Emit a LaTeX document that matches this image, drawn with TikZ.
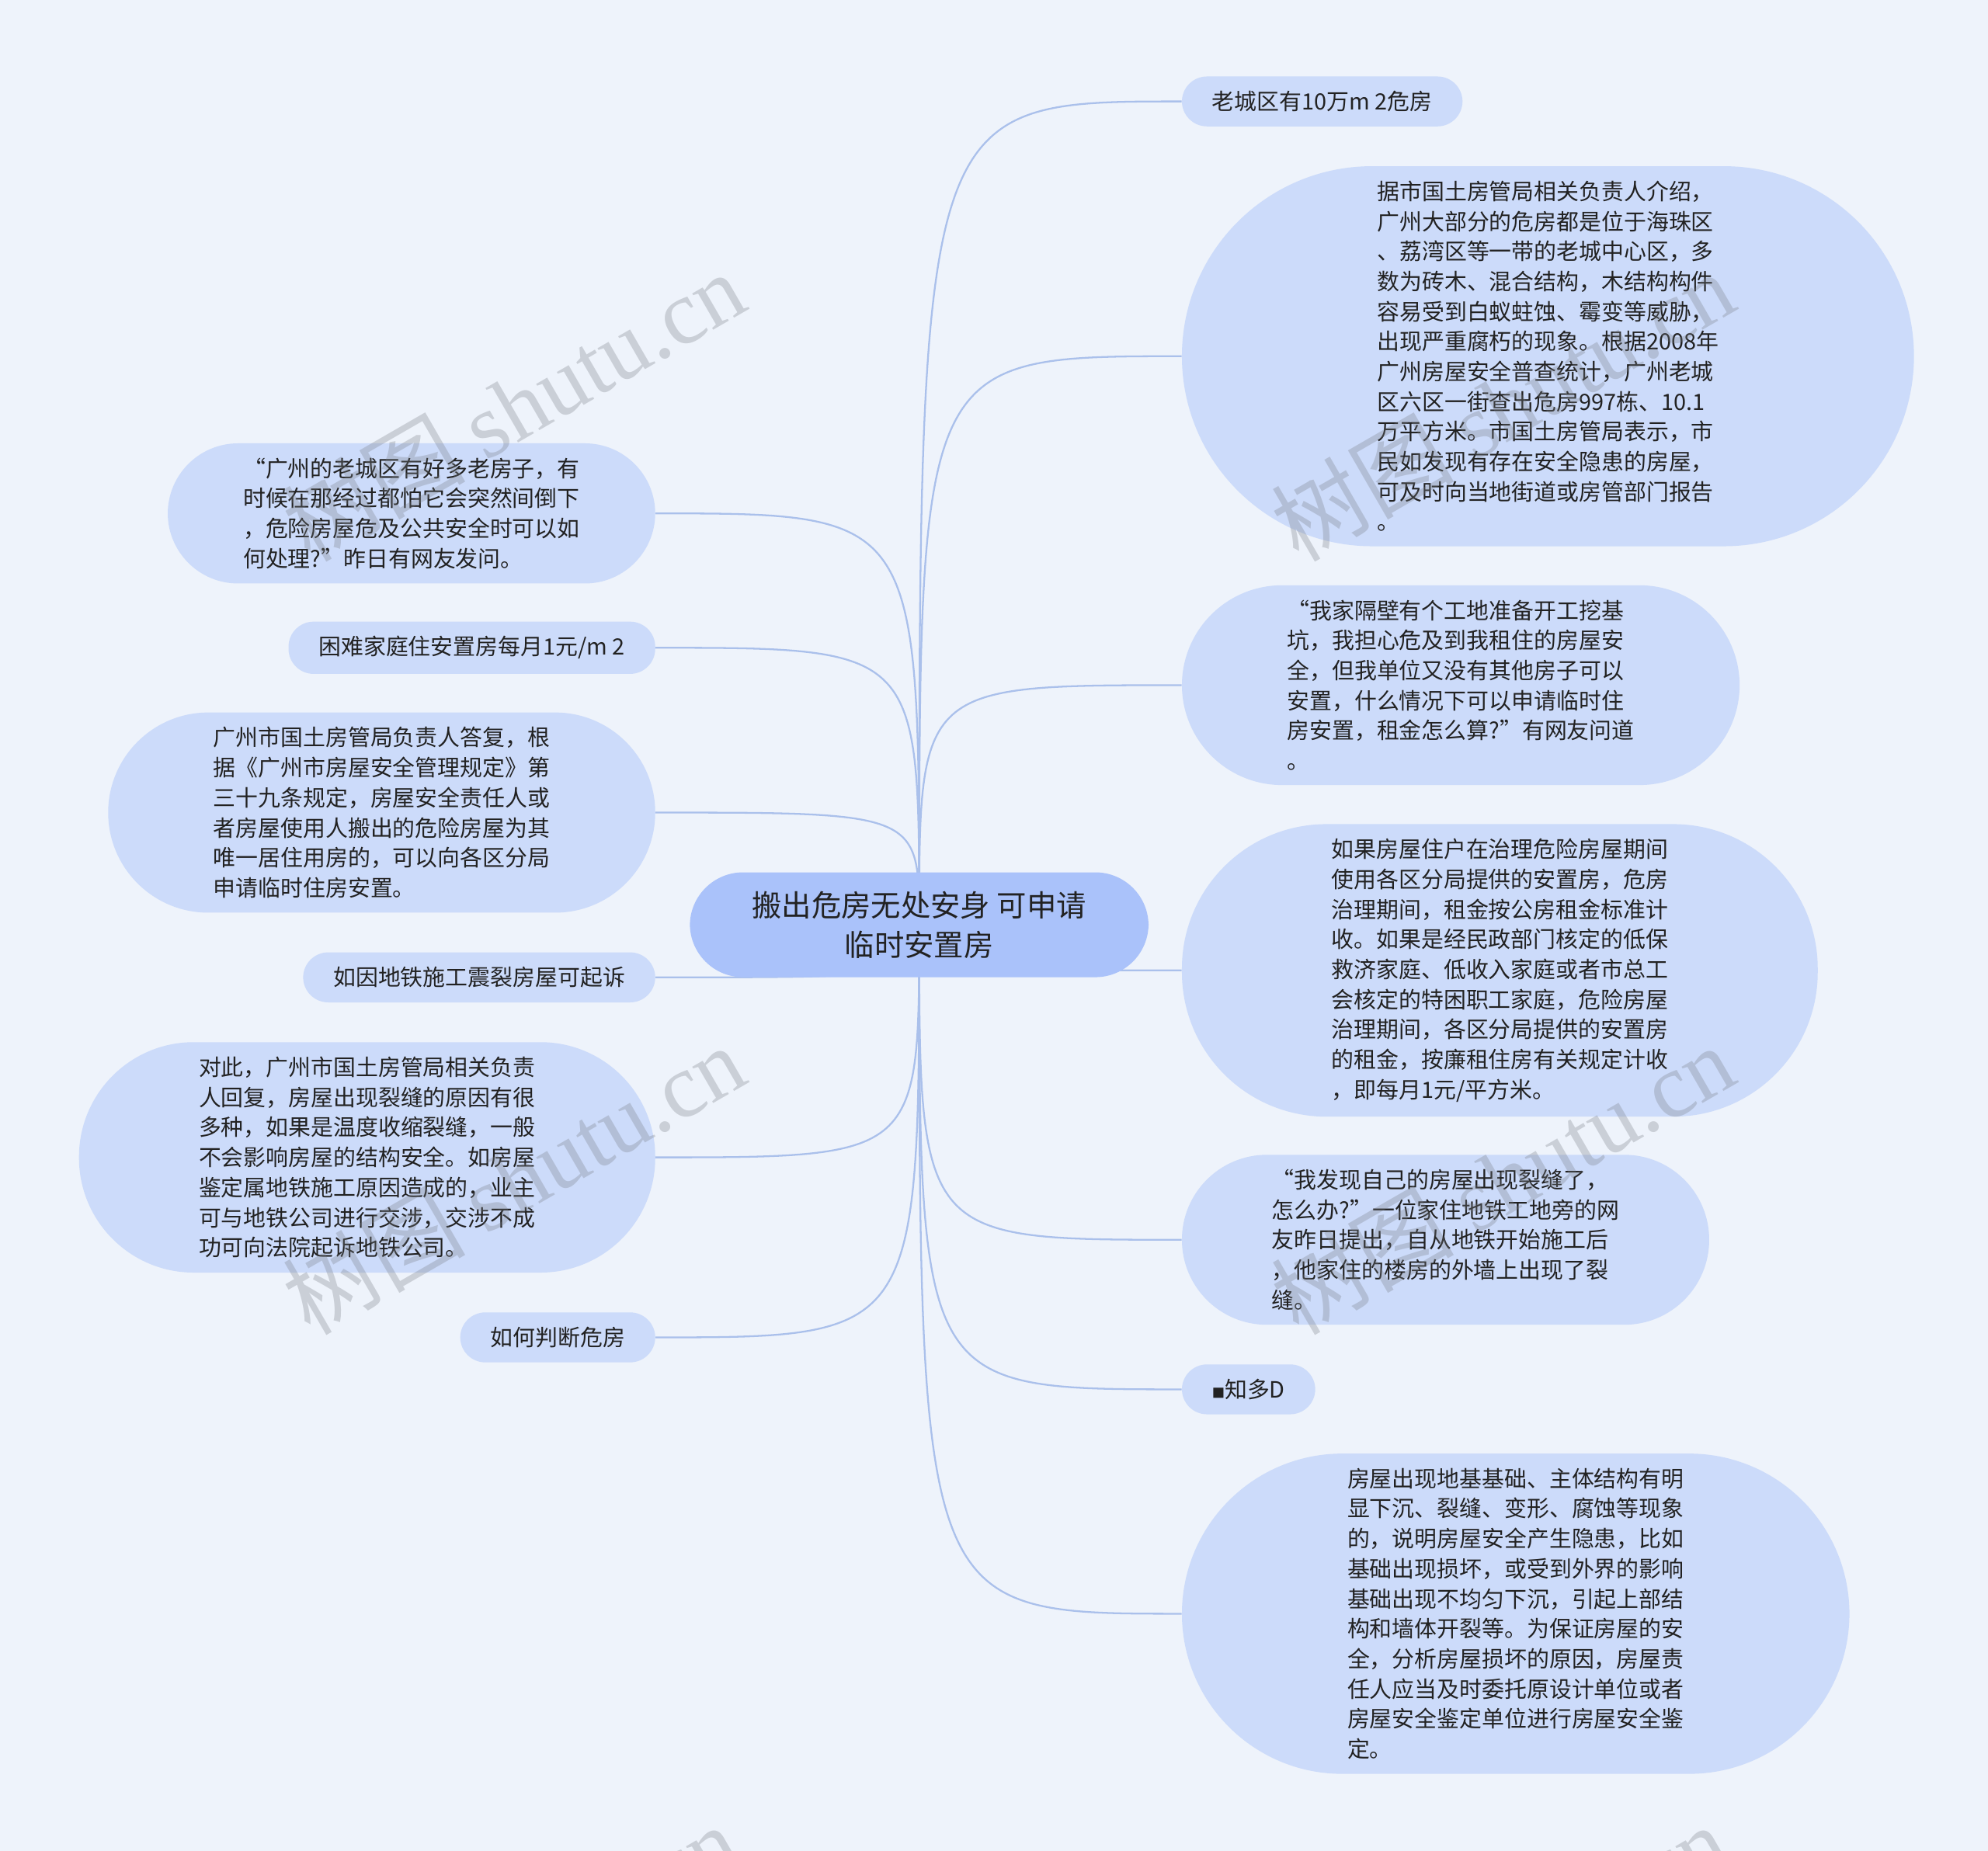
\documentclass[tikz,border=0pt]{standalone}
\usepackage{fontspec}
\setmainfont{Noto Sans CJK SC}
\newfontfamily\wmserif{Liberation Serif}
\definecolor{BG}{RGB}{238,243,251}
\definecolor{LB}{RGB}{204,219,250}
\definecolor{RB}{RGB}{170,194,250}
\definecolor{LN}{RGB}{170,192,235}
\definecolor{DG}{RGB}{34,34,34}
\definecolor{WM}{RGB}{120,124,132}
\pgfdeclarelayer{bg}
\pgfdeclarelayer{edges}
\pgfsetlayers{bg,edges,main}

\begin{document}
\begin{tikzpicture}[x=1pt, y=-1pt,
  leaf/.style={rectangle, fill=LB, text=DG, rounded corners=#1, inner xsep=#1+4pt,
    inner ysep=11.5pt, align=left, font=\fontsize{17.7}{23.7}\selectfont},
  root/.style={rectangle, fill=RB, text=DG, rounded corners=42pt, inner xsep=49pt,
    inner ysep=15pt, align=center, font=\fontsize{23.5}{31}\selectfont},
  link/.style={draw=LN, line width=1.4pt},
  wmark/.style={text=WM, opacity=0.3, rotate=30, font=\fontsize{72}{72}\selectfont}]

% Canvas
\useasboundingbox (0,0) rectangle (1568,1460);
\begin{pgfonlayer}{bg}
  \fill[BG] (0,0) rectangle (1568,1460);
\end{pgfonlayer}

% Central topic
\node[root] (root) at (725,729.5) {搬出危房无处安身 可申请\\临时安置房};

% Right branches
\node[leaf=19.8pt, anchor=west] (r1) at (932,80) {老城区有10万m 2危房};
\node[leaf=150pt, anchor=west] (r2) at (932,281) {据市国土房管局相关负责人介绍，\\广州大部分的危房都是位于海珠区\\、荔湾区等一带的老城中心区，多\\数为砖木、混合结构，木结构构件\\容易受到白蚁蛀蚀、霉变等威胁，\\出现严重腐朽的现象。根据2008年\\广州房屋安全普查统计，广州老城\\区六区一街查出危房997栋、10.1\\万平方米。市国土房管局表示，市\\民如发现有存在安全隐患的房屋，\\可及时向当地街道或房管部门报告\\。};
\node[leaf=79pt, anchor=west] (r3) at (932,540.5) {“我家隔壁有个工地准备开工挖基\\坑，我担心危及到我租住的房屋安\\全，但我单位又没有其他房子可以\\安置，什么情况下可以申请临时住\\房安置，租金怎么算?”有网友问道\\。};
\node[leaf=114pt, anchor=west] (r4) at (932,765.5) {如果房屋住户在治理危险房屋期间\\使用各区分局提供的安置房，危房\\治理期间，租金按公房租金标准计\\收。如果是经民政部门核定的低保\\救济家庭、低收入家庭或者市总工\\会核定的特困职工家庭，危险房屋\\治理期间，各区分局提供的安置房\\的租金，按廉租住房有关规定计收\\，即每月1元/平方米。};
\node[leaf=67pt, anchor=west] (r5) at (932,978) {“我发现自己的房屋出现裂缝了，\\怎么办?”一位家住地铁工地旁的网\\友昨日提出，自从地铁开始施工后\\，他家住的楼房的外墙上出现了裂\\缝。};
\node[leaf=19.8pt, anchor=west] (r6) at (932,1096) {{\fontsize{10}{10}\selectfont ■}知多D};
\node[leaf=126.5pt, anchor=west] (r7) at (932,1273) {房屋出现地基基础、主体结构有明\\显下沉、裂缝、变形、腐蚀等现象\\的，说明房屋安全产生隐患，比如\\基础出现损坏，或受到外界的影响\\基础出现不均匀下沉，引起上部结\\构和墙体开裂等。为保证房屋的安\\全，分析房屋损坏的原因，房屋责\\任人应当及时委托原设计单位或者\\房屋安全鉴定单位进行房屋安全鉴\\定。};

% Left branches
\node[leaf=55.5pt, anchor=east] (l1) at (517,405) {“广州的老城区有好多老房子，有\\时候在那经过都怕它会突然间倒下\\，危险房屋危及公共安全时可以如\\何处理?”昨日有网友发问。};
\node[leaf=19.8pt, anchor=east] (l2) at (517,511) {困难家庭住安置房每月1元/m 2};
\node[leaf=79pt, anchor=east] (l3) at (517,641) {广州市国土房管局负责人答复，根\\据《广州市房屋安全管理规定》第\\三十九条规定，房屋安全责任人或\\者房屋使用人搬出的危险房屋为其\\唯一居住用房的，可以向各区分局\\申请临时住房安置。};
\node[leaf=19.8pt, anchor=east] (l4) at (517,771) {如因地铁施工震裂房屋可起诉};
\node[leaf=90.5pt, anchor=east] (l5) at (517,913) {对此，广州市国土房管局相关负责\\人回复，房屋出现裂缝的原因有很\\多种，如果是温度收缩裂缝，一般\\不会影响房屋的结构安全。如房屋\\鉴定属地铁施工原因造成的，业主\\可与地铁公司进行交涉，交涉不成\\功可向法院起诉地铁公司。};
\node[leaf=19.8pt, anchor=east] (l6) at (517,1055) {如何判断危房};

% Curved links
\begin{pgfonlayer}{edges}
  \foreach \n in {r1,r2,r3,r4,r5,r6,r7}
    \draw[link] (root.center) .. controls (root.center |- \n.west) .. (\n.west);
  \foreach \n in {l1,l2,l3,l4,l5,l6}
    \draw[link] (root.center) .. controls (root.center |- \n.east) .. (\n.east);
\end{pgfonlayer}

% Watermarks
\foreach \wx/\wy in {405/320, 1185/320, 405/930, 1185/930, 400/1545, 1180/1545}
  \node[wmark] (wm-\wx-\wy) at (\wx,\wy) {树图 {\wmserif shutu.cn}};
\end{tikzpicture}
\end{document}
